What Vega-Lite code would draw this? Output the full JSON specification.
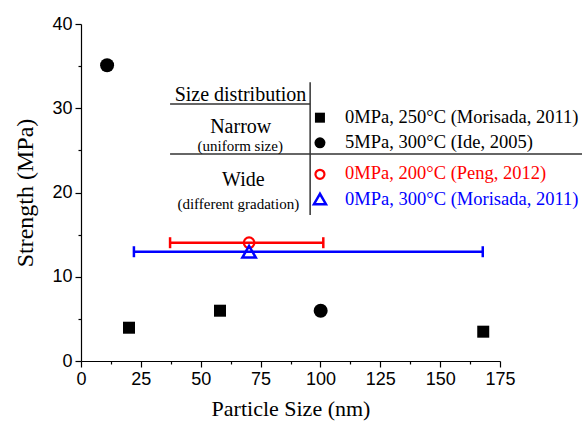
{
  "$schema": "https://vega.github.io/schema/vega-lite/v6.json",
  "width": 419,
  "height": 337,
  "autosize": "none",
  "padding": {"left": 81, "top": 24, "right": 82, "bottom": 63},
  "background": "white",
  "config": {
    "view": {"stroke": null},
    "axis": {
      "grid": false,
      "domainColor": "black",
      "domainWidth": 1.2,
      "tickColor": "black",
      "tickWidth": 1.2,
      "labelFont": "Liberation Sans",
      "labelFontSize": 18,
      "labelColor": "black",
      "labelOverlap": false,
      "labelFlush": false,
      "titleFont": "Liberation Serif",
      "titleFontSize": 22,
      "titleFontWeight": "normal",
      "titleColor": "black"
    }
  },
  "datasets": {
    "points": [
      {"series": "A", "x": 20.05, "y": 3.95},
      {"series": "A", "x": 58.06, "y": 5.97},
      {"series": "A", "x": 168.0, "y": 3.48},
      {"series": "B", "x": 10.9, "y": 35.1},
      {"series": "B", "x": 100.1, "y": 5.97}
    ],
    "errs": [
      {"series": "C", "x": 70.2, "y": 14.04, "lo": 37.2, "hi": 101.2},
      {"series": "D", "x": 70.2, "y": 12.97, "lo": 22.1, "hi": 167.8}
    ],
    "legend": [
      {"series": "A", "sx": 99.8, "sy": 28.88, "tx": 110.3, "ty": 28.21, "label": "0MPa, 250°C (Morisada, 2011)"},
      {"series": "B", "sx": 99.8, "sy": 25.9, "tx": 110.3, "ty": 25.24, "label": "5MPa, 300°C (Ide, 2005)"},
      {"series": "C", "sx": 99.8, "sy": 22.16, "tx": 110.3, "ty": 21.6, "label": "0MPa, 200°C (Peng, 2012)"},
      {"series": "D", "sx": 99.8, "sy": 19.23, "tx": 110.3, "ty": 18.52, "label": "0MPa, 300°C (Morisada, 2011)"}
    ],
    "tableText": [
      {"kind": "big", "text": "Size distribution", "x": 66.6, "y": 30.86},
      {"kind": "big", "text": "Narrow", "x": 66.7, "y": 27.03},
      {"kind": "small", "text": "(uniform size)", "x": 66.5, "y": 24.93},
      {"kind": "big", "text": "Wide", "x": 67.8, "y": 20.81},
      {"kind": "small", "text": "(different gradation)", "x": 65.7, "y": 18.04}
    ],
    "tableLines": [
      {"x": 37.2, "x2": 95.7, "y": 30.5, "y2": 30.5},
      {"x": 37.2, "x2": 209.3, "y": 24.57, "y2": 24.57},
      {"x": 95.7, "x2": 95.7, "y": 33.1, "y2": 17.33}
    ]
  },
  "encoding": {
    "x": {
      "field": "x",
      "type": "quantitative",
      "scale": {"domain": [0, 175], "nice": false, "zero": false},
      "axis": {
        "title": "Particle Size (nm)",
        "titleFont": "Liberation Serif",
        "titleFontSize": 22,
        "titleFontWeight": "normal",
        "values": [0, 12.5, 25, 37.5, 50, 62.5, 75, 87.5, 100, 112.5, 125, 137.5, 150, 162.5, 175],
        "labelExpr": "datum.value % 25 === 0 ? datum.label : ''",
        "tickSize": {"condition": {"test": "datum.value % 25 === 0", "value": 6}, "value": 3},
        "labelPadding": 3,
        "titlePadding": 10
      }
    },
    "y": {
      "field": "y",
      "type": "quantitative",
      "scale": {"domain": [0, 40], "nice": false, "zero": false},
      "axis": {
        "title": "Strength (MPa)",
        "titleFont": "Liberation Serif",
        "titleFontSize": 24,
        "titleFontWeight": "normal",
        "values": [0, 5, 10, 15, 20, 25, 30, 35, 40],
        "labelExpr": "datum.value % 10 === 0 ? datum.label : ''",
        "tickSize": {"condition": {"test": "datum.value % 10 === 0", "value": 6}, "value": 3},
        "labelPadding": 3,
        "titlePadding": 14
      }
    },
    "color": {
      "field": "series",
      "type": "nominal",
      "scale": {"domain": ["A", "B", "C", "D"], "range": ["black", "black", "#ff0000", "#0000ff"]},
      "legend": null
    }
  },
  "layer": [
    {
      "data": {"name": "tableLines"},
      "mark": {"type": "rule", "color": "#333333", "strokeWidth": 1.5},
      "encoding": {
        "x": {"field": "x", "type": "quantitative"},
        "x2": {"field": "x2"},
        "y": {"field": "y", "type": "quantitative"},
        "y2": {"field": "y2"},
        "color": {"value": "#333333"}
      }
    },
    {
      "data": {"name": "tableText"},
      "transform": [{"filter": "datum.kind === 'big'"}],
      "mark": {"type": "text", "font": "Liberation Serif", "fontSize": 20, "align": "center", "baseline": "alphabetic"},
      "encoding": {
        "text": {"field": "text"},
        "color": {"value": "black"}
      }
    },
    {
      "data": {"name": "tableText"},
      "transform": [{"filter": "datum.kind === 'small'"}],
      "mark": {"type": "text", "font": "Liberation Serif", "fontSize": 15, "align": "center", "baseline": "alphabetic"},
      "encoding": {
        "text": {"field": "text"},
        "color": {"value": "black"}
      }
    },
    {
      "data": {"name": "legend"},
      "mark": {"type": "text", "font": "Liberation Serif", "fontSize": 18.5, "align": "left", "baseline": "alphabetic"},
      "encoding": {
        "x": {"field": "tx", "type": "quantitative"},
        "y": {"field": "ty", "type": "quantitative"},
        "text": {"field": "label"}
      }
    },
    {
      "data": {"name": "legend"},
      "transform": [{"filter": "datum.series === 'A'"}],
      "mark": {"type": "point", "shape": "square", "filled": true, "size": 100, "opacity": 1},
      "encoding": {
        "x": {"field": "sx", "type": "quantitative"},
        "y": {"field": "sy", "type": "quantitative"}
      }
    },
    {
      "data": {"name": "legend"},
      "transform": [{"filter": "datum.series === 'B'"}],
      "mark": {"type": "point", "shape": "circle", "filled": true, "size": 121, "opacity": 1},
      "encoding": {
        "x": {"field": "sx", "type": "quantitative"},
        "y": {"field": "sy", "type": "quantitative"}
      }
    },
    {
      "data": {"name": "legend"},
      "transform": [{"filter": "datum.series === 'C'"}],
      "mark": {"type": "point", "shape": "circle", "filled": false, "size": 81, "strokeWidth": 2.2, "opacity": 1},
      "encoding": {
        "x": {"field": "sx", "type": "quantitative"},
        "y": {"field": "sy", "type": "quantitative"}
      }
    },
    {
      "data": {"name": "legend"},
      "transform": [{"filter": "datum.series === 'D'"}],
      "mark": {"type": "point", "shape": "triangle-up", "filled": false, "size": 144, "strokeWidth": 2.5, "opacity": 1},
      "encoding": {
        "x": {"field": "sx", "type": "quantitative"},
        "y": {"field": "sy", "type": "quantitative"}
      }
    },
    {
      "data": {"name": "errs"},
      "mark": {"type": "rule", "strokeWidth": 2.5},
      "encoding": {
        "x": {"field": "lo", "type": "quantitative"},
        "x2": {"field": "hi"}
      }
    },
    {
      "data": {"name": "errs"},
      "mark": {"type": "tick", "orient": "vertical", "size": 11, "thickness": 2.5, "opacity": 1},
      "encoding": {
        "x": {"field": "lo", "type": "quantitative"}
      }
    },
    {
      "data": {"name": "errs"},
      "mark": {"type": "tick", "orient": "vertical", "size": 11, "thickness": 2.5, "opacity": 1},
      "encoding": {
        "x": {"field": "hi", "type": "quantitative"}
      }
    },
    {
      "data": {"name": "errs"},
      "transform": [{"filter": "datum.series === 'C'"}],
      "mark": {"type": "point", "shape": "circle", "filled": false, "size": 110, "strokeWidth": 2.2, "opacity": 1}
    },
    {
      "data": {"name": "errs"},
      "transform": [{"filter": "datum.series === 'D'"}],
      "mark": {"type": "point", "shape": "triangle-up", "filled": false, "size": 180, "strokeWidth": 2.5, "opacity": 1}
    },
    {
      "data": {"name": "points"},
      "transform": [{"filter": "datum.series === 'A'"}],
      "mark": {"type": "point", "shape": "square", "filled": true, "size": 144, "opacity": 1}
    },
    {
      "data": {"name": "points"},
      "transform": [{"filter": "datum.series === 'B'"}],
      "mark": {"type": "point", "shape": "circle", "filled": true, "size": 196, "opacity": 1}
    }
  ]
}
